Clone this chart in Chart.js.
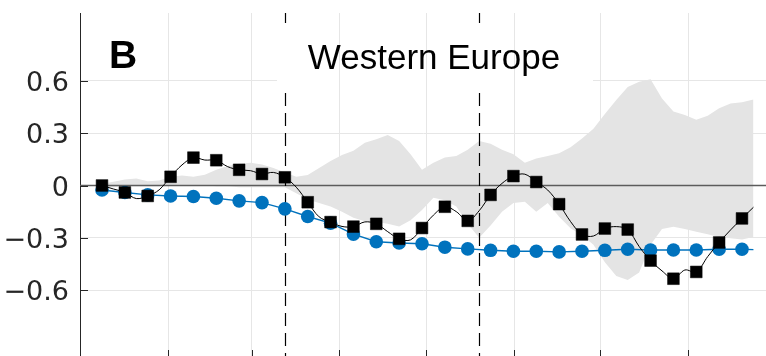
<!DOCTYPE html>
<html>
<head>
<meta charset="utf-8">
<script src="https://cdn.jsdelivr.net/npm/chart.js@4.4.0/dist/chart.umd.min.js"></script>
<style>
html, body { margin: 0; padding: 0; background: #fff; overflow: hidden; }
#wrap { width: 766px; height: 358px; }
</style>
</head>
<body>
<div id="wrap"><canvas id="chart"></canvas></div>
<script>
// periodos (eje x, sin etiquetas visibles)
const periods = [0, 1, 2, 3, 4, 5, 6, 7, 8, 9, 10, 11, 12, 13, 14, 15, 16, 17, 18, 19, 20, 21, 22, 23, 24, 25, 26, 27, 28];
const halfPeriods = [0, 0.5, 1, 1.5, 2, 2.5, 3, 3.5, 4, 4.5, 5, 5.5, 6, 6.5, 7, 7.5, 8, 8.5, 9, 9.5,
  10, 10.5, 11, 11.5, 12, 12.5, 13, 13.5, 14, 14.5, 15, 15.5, 16, 16.5, 17, 17.5, 18, 18.5, 19, 19.5,
  20, 20.5, 21, 21.5, 22, 22.5, 23, 23.5, 24, 24.5, 25, 25.5, 26, 26.5, 27, 27.5, 28, 28.5];

// serie observada (cuadrados negros) y valores intermedios de la curva fina
const observed = [0.0, -0.04, -0.06, 0.05, 0.16, 0.145, 0.09, 0.066, 0.047, -0.096, -0.21, -0.236, -0.22, -0.306, -0.244,
  -0.122, -0.203, -0.054, 0.054, 0.02, -0.107, -0.281, -0.247, -0.253, -0.431, -0.535, -0.496, -0.327, -0.189];
const observedBetween = [-0.02, -0.075, -0.025, 0.118, 0.146, 0.108, 0.085, 0.075, -0.01, -0.18, -0.235, -0.209, -0.265, -0.312,
  -0.17, -0.15, -0.145, 0.012, 0.065, -0.026, -0.207, -0.29, -0.236, -0.35, -0.49, -0.485, -0.408, -0.255, -0.125];

// serie sintetica (circulos azules)
const synthetic = [-0.026, -0.04, -0.054, -0.06, -0.063, -0.073, -0.088, -0.098, -0.134, -0.178, -0.216, -0.279, -0.323, -0.33, -0.334,
  -0.354, -0.364, -0.372, -0.377, -0.377, -0.381, -0.377, -0.372, -0.366, -0.37, -0.37, -0.37, -0.366, -0.366];
const syntheticTail = -0.368;

// banda gris (placebo)
const bandUpper = [0.01, 0.022, 0.035, 0.04, 0.025, 0.028, 0.05, 0.058, 0.05, 0.062, 0.09, 0.112, 0.125, 0.13, 0.12, 0.1,
  0.075, 0.05, 0.06, 0.1, 0.14, 0.175, 0.2, 0.245, 0.265, 0.29, 0.255, 0.18, 0.09, 0.13, 0.16, 0.17, 0.205, 0.255,
  0.24, 0.205, 0.18, 0.13, 0.155, 0.17, 0.185, 0.22, 0.27, 0.325, 0.41, 0.49, 0.565, 0.595, 0.61, 0.5, 0.425, 0.405,
  0.378, 0.4, 0.443, 0.47, 0.478, 0.494];
const bandLower = [-0.01, -0.01, -0.005, -0.005, -0.005, -0.005, 0.0, 0.0, 0.0, 0.0, -0.005, -0.005, -0.01, -0.01, -0.01, -0.01,
  -0.01, -0.045, -0.08, -0.1, -0.12, -0.15, -0.185, -0.205, -0.21, -0.22, -0.235, -0.2, -0.14, -0.07, -0.085, -0.12,
  -0.22, -0.3, -0.23, -0.15, -0.1, -0.093, -0.15, -0.1, -0.18, -0.245, -0.285, -0.34, -0.44, -0.52, -0.542, -0.5,
  -0.34, -0.25, -0.237, -0.25, -0.265, -0.28, -0.295, -0.303, -0.31, -0.295];

const yTicks = [-0.6, -0.3, 0, 0.3, 0.6];
const xTicks = [2.89, 6.56, 10.37, 14.18, 18.03, 21.79, 25.64];
const breakPeriods = [8, 16.5];
const panelLetter = 'B';
const regionTitle = 'Western Europe';

// curva fina: cuadrados intercalados con valores intermedios
const observedCurve = [];
observed.forEach((v, i) => {
    observedCurve.push(v);
    observedCurve.push(observedBetween[i]);
});

const FONT = "'Liberation Sans', Arial, Helvetica, sans-serif";
const TICK_FONT = "'DejaVu Sans', 'Liberation Sans', sans-serif";
const AXIS_COLOR = '#262626';
const GRID_COLOR = '#e6e6e6';

const decorPlugin = {
    id: 'decor',
    afterDatasetDraw(chart, args) {
        if (args.index !== 0) return; // justo despues de la banda
        const ctx = chart.ctx;
        const area = chart.chartArea;
        const xs = chart.scales.x;
        const ys = chart.scales.y;
        ctx.save();

        // linea de cero
        const y0 = ys.getPixelForValue(0);
        ctx.strokeStyle = '#5c5c5c';
        ctx.lineWidth = 1.5;
        ctx.beginPath();
        ctx.moveTo(area.left, y0);
        ctx.lineTo(area.right, y0);
        ctx.stroke();

        // lineas verticales discontinuas
        ctx.strokeStyle = '#000';
        ctx.lineWidth = 1.2;
        ctx.setLineDash([13, 7]);
        breakPeriods.forEach(p => {
            const x = Math.round(xs.getPixelForValue(p)) + 0.5;
            ctx.beginPath();
            ctx.moveTo(x, area.top);
            ctx.lineTo(x, area.bottom);
            ctx.stroke();
        });
        ctx.setLineDash([]);

        // caja blanca del titulo
        const box = { left: 277, top: 23, right: 593, bottom: 88 };
        ctx.fillStyle = '#fff';
        ctx.fillRect(box.left, box.top, box.right - box.left, box.bottom - box.top);
        ctx.strokeStyle = GRID_COLOR;
        ctx.lineWidth = 1;
        xTicks.forEach(t => {
            const x = Math.round(xs.getPixelForValue(t)) + 0.5;
            if (x > box.left && x < box.right) {
                ctx.beginPath();
                ctx.moveTo(x, box.top);
                ctx.lineTo(x, box.bottom);
                ctx.stroke();
            }
        });
        ctx.fillStyle = '#000';
        ctx.font = '35px ' + FONT;
        ctx.textAlign = 'center';
        ctx.textBaseline = 'alphabetic';
        ctx.fillText(regionTitle, 434, 69);

        ctx.font = 'bold 39px ' + FONT;
        ctx.textAlign = 'left';
        ctx.fillText(panelLetter, 109, 68);

        // marcas hacia dentro
        ctx.strokeStyle = AXIS_COLOR;
        ctx.lineWidth = 1;
        yTicks.forEach(t => {
            const y = Math.round(ys.getPixelForValue(t)) + 0.5;
            ctx.beginPath();
            ctx.moveTo(area.left, y);
            ctx.lineTo(area.left + 8, y);
            ctx.stroke();
        });
        xTicks.forEach(t => {
            const x = Math.round(xs.getPixelForValue(t)) + 0.5;
            ctx.beginPath();
            ctx.moveTo(x, area.bottom);
            ctx.lineTo(x, area.bottom - 8);
            ctx.stroke();
        });
        ctx.restore();
    }
};

const ctx = document.getElementById('chart');
new Chart(ctx, {
    type: 'scatter',
    data: {
        datasets: [
            {
                data: halfPeriods.map((x, i) => ({ x: x, y: bandLower[i] })),
                showLine: true, borderWidth: 0, pointRadius: 0, fill: false, order: 5
            },
            {
                data: halfPeriods.map((x, i) => ({ x: x, y: bandUpper[i] })),
                showLine: true, borderWidth: 0, pointRadius: 0,
                fill: '-1', backgroundColor: '#e4e4e4', order: 5
            },
            {
                data: periods.map((x, i) => ({ x: x, y: synthetic[i] })).concat([{ x: 28.5, y: syntheticTail }]),
                showLine: true, borderColor: '#0072BD', borderWidth: 1.4, pointRadius: 0, order: 3
            },
            {
                data: periods.map((x, i) => ({ x: x, y: synthetic[i] })),
                showLine: false, pointRadius: 6.8, pointBackgroundColor: '#0072BD',
                pointBorderWidth: 0, order: 2
            },
            {
                data: halfPeriods.map((x, i) => ({ x: x, y: observedCurve[i] })),
                showLine: true, borderColor: '#000', borderWidth: 1, tension: 0.35,
                pointRadius: 0, order: 1
            },
            {
                data: periods.map((x, i) => ({ x: x, y: observed[i] })),
                showLine: false, pointStyle: 'rect', pointRadius: 8.3,
                pointBackgroundColor: '#000', pointBorderColor: '#000', pointBorderWidth: 0.5, order: 0
            }
        ]
    },
    options: {
        responsive: true,
        maintainAspectRatio: false,
        animation: false,
        layout: { autoPadding: false, padding: { top: 13, left: 0, right: 0, bottom: 0 } },
        plugins: {
            legend: { display: false },
            tooltip: { enabled: false }
        },
        scales: {
            x: {
                type: 'linear',
                min: -0.9625,
                max: 29.05,
                afterBuildTicks: s => { s.ticks = xTicks.map(v => ({ value: v })); },
                afterFit: s => { s.height = 0; s.paddingLeft = 0; s.paddingRight = 0; },
                ticks: { display: false },
                grid: { color: GRID_COLOR, lineWidth: 1, drawTicks: false },
                border: { display: false }
            },
            y: {
                min: -0.99,
                max: 0.99,
                afterBuildTicks: s => { s.ticks = yTicks.map(v => ({ value: v })); },
                afterFit: s => { s.width = 80; s.paddingTop = 0; s.paddingBottom = 0; },
                ticks: {
                    font: { family: TICK_FONT, size: 27 },
                    color: AXIS_COLOR,
                    padding: 11,
                    labelOffset: 3,
                    callback: v => v < 0 ? '\u2212' + Math.abs(v) : String(v)
                },
                grid: { color: GRID_COLOR, lineWidth: 1, drawTicks: false },
                border: { color: AXIS_COLOR, width: 1 }
            }
        }
    },
    plugins: [decorPlugin]
});
</script>
</body>
</html>
